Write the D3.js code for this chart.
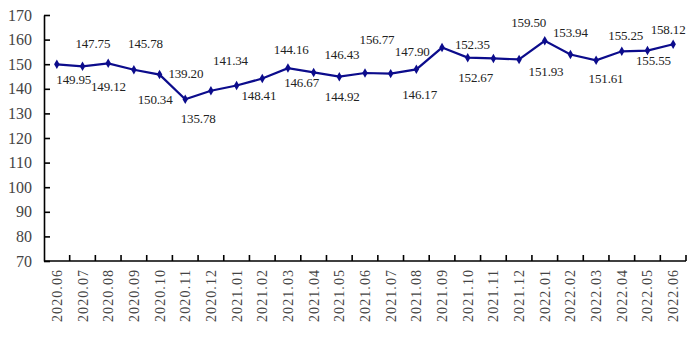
<!DOCTYPE html>
<html>
<head>
<meta charset="utf-8">
<script src="https://cdn.jsdelivr.net/npm/d3@7"></script>
<style>
  html, body { margin: 0; padding: 0; background: #fff; }
  svg { display: block; }
</style>
</head>
<body>
<svg id="chart" width="694" height="338"></svg>
<script>
// Monthly index, June 2020 – June 2022
const months = [
  "2020.06", "2020.07", "2020.08", "2020.09", "2020.10", "2020.11", "2020.12",
  "2021.01", "2021.02", "2021.03", "2021.04", "2021.05", "2021.06", "2021.07",
  "2021.08", "2021.09", "2021.10", "2021.11", "2021.12",
  "2022.01", "2022.02", "2022.03", "2022.04", "2022.05", "2022.06"
];
const indexValues = [
  149.95, 149.12, 150.34, 147.75, 145.78, 135.78, 139.20,
  141.34, 144.16, 148.41, 146.67, 144.92, 146.43, 146.17,
  147.90, 156.77, 152.67, 152.35, 151.93,
  159.50, 153.94, 151.61, 155.25, 155.55, 158.12
];
const yTicks = [70, 80, 90, 100, 110, 120, 130, 140, 150, 160, 170];

// Hand-placed value label offsets (dx, dy) from each point
const labelOffsets = [
  [17, 15], [26, 20], [47, 36], [-41, -26], [-14, -31], [13, 19], [-25, -17],
  [-6, -25], [29, -29], [-29, 27], [-12, 10], [3, 20], [-23, -19], [29, 21],
  [-4, -18], [-65, -8], [8, 20], [-21, -14], [27, 12],
  [-16, -18], [0, -22], [10, 18], [4, -16], [6, 10], [-5, -15]
];

const svg = d3.select("#chart");
const plotLeft = 44, plotRight = 686, plotTop = 15, plotBottom = 261;

const x = d3.scaleBand().domain(months).range([plotLeft, plotRight]).paddingInner(0).paddingOuter(0);
const y = d3.scaleLinear().domain([70, 170]).range([plotBottom, plotTop]);
const cx = d => x(d) + x.bandwidth() / 2;

// Y axis: ticks point into the plot
const yAxis = svg.append("g")
  .attr("transform", `translate(${plotLeft},0)`)
  .call(d3.axisLeft(y).tickValues(yTicks).tickSizeInner(-6).tickSizeOuter(0).tickPadding(12));
yAxis.select(".domain").attr("stroke", "#000").attr("stroke-width", 1.6);
yAxis.selectAll(".tick line").attr("stroke", "#000").attr("stroke-width", 1.6);
yAxis.selectAll(".tick text")
  .attr("font-family", "'Liberation Serif', serif")
  .attr("font-size", 16)
  .attr("fill", "#444");

// X axis: baseline, boundary ticks, rotated month labels
const xAxis = svg.append("g");
xAxis.append("line")
  .attr("x1", plotLeft).attr("x2", plotRight)
  .attr("y1", plotBottom).attr("y2", plotBottom)
  .attr("stroke", "#000").attr("stroke-width", 1.6);
xAxis.selectAll("line.bound")
  .data(months.slice(1).concat([null]))
  .join("line")
  .attr("class", "bound")
  .attr("x1", d => d === null ? plotRight : x(d))
  .attr("x2", d => d === null ? plotRight : x(d))
  .attr("y1", plotBottom).attr("y2", plotBottom - 6)
  .attr("stroke", "#000").attr("stroke-width", 1.6);
xAxis.selectAll("text")
  .data(months)
  .join("text")
  .attr("transform", d => `translate(${cx(d) + 5},${plotBottom + 9}) rotate(-90)`)
  .attr("text-anchor", "end")
  .attr("font-family", "'Liberation Serif', serif")
  .attr("font-size", 14)
  .attr("fill", "#444")
  .attr("textLength", 52)
  .attr("lengthAdjust", "spacing")
  .text(d => d);

// Series line
const pts = months.map((m, i) => ({ m, v: indexValues[i], i }));
svg.append("path")
  .datum(pts)
  .attr("fill", "none")
  .attr("stroke", "#0c0c8c")
  .attr("stroke-width", 2.2)
  .attr("d", d3.line().x(d => cx(d.m)).y(d => y(d.v)));

svg.selectAll("path.marker")
  .data(pts)
  .join("path")
  .attr("class", "marker")
  .attr("transform", d => `translate(${cx(d.m)},${y(d.v)})`)
  .attr("d", d3.symbol().type(d3.symbolDiamond).size(26))
  .attr("fill", "#0c0c8c");

// Value labels
svg.selectAll("text.val")
  .data(pts)
  .join("text")
  .attr("class", "val")
  .attr("x", d => cx(d.m) + labelOffsets[d.i][0])
  .attr("y", d => y(d.v) + labelOffsets[d.i][1])
  .attr("dy", "0.35em")
  .attr("text-anchor", "middle")
  .attr("font-family", "'Liberation Serif', serif")
  .attr("font-size", 13)
  .attr("fill", "#222")
  .attr("textLength", 35)
  .attr("lengthAdjust", "spacing")
  .text(d => d.v.toFixed(2));
</script>
</body>
</html>
